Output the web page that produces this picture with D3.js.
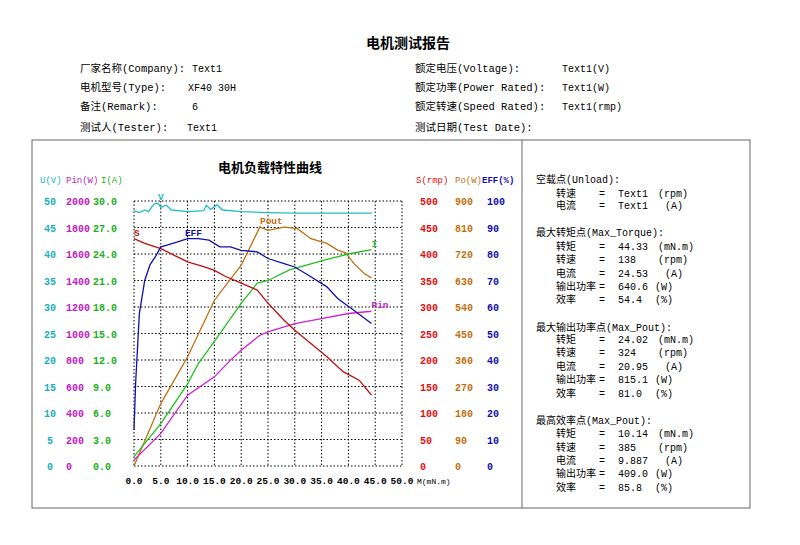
<!DOCTYPE html>
<html><head><meta charset="utf-8">
<script src="https://cdn.jsdelivr.net/npm/d3@7"></script>
<style>body{margin:0;background:#fff}svg text{font-family:"Liberation Mono","Noto Sans CJK SC",monospace}</style>
</head><body><svg id="c" width="800" height="545"></svg>
<script>
const torqueTicks=[0,5,10,15,20,25,30,35,40,45,50];
const uTicks=[0,5,10,15,20,25,30,35,40,45,50];
const pinTicks=[0,200,400,600,800,1000,1200,1400,1600,1800,2000];
const iTicks=[0,3,6,9,12,15,18,21,24,27,30];
const sTicks=[0,50,100,150,200,250,300,350,400,450,500];
const poTicks=[0,90,180,270,360,450,540,630,720,810,900];
const effTicks=[0,10,20,30,40,50,60,70,80,90,100];
const U=[[0,48.2],[1,47.8],[2,48.3],[2.7,48],[3.7,49.4],[4.5,49.6],[5,48.8],[6,49.2],[7,48.3],[10,48],[13,48.2],[13.5,49.2],[14.3,48.4],[15.5,49.3],[16.5,48.3],[20,48],[25,47.8],[30,47.7],[44.4,47.7]];
const Pout=[[0,0],[5,212],[10,371],[15,563],[20,682],[23.5,812],[25,800],[28,811],[30.5,806],[33,772],[36,756],[38,733],[39.5,724],[41,688],[43,653],[44.3,639]];
const I=[[0,1.06],[5,4.8],[10,9.3],[12,11.6],[15,14.1],[20,18.4],[23,20.7],[25,21.0],[29,22.2],[32,22.7],[36,23.4],[40,24.0],[44.3,24.5]];
const Pin=[[0,45],[5,246],[10,535],[15,673],[18,799],[20,874],[23.5,987],[25,1013],[30,1075],[35,1113],[40,1151],[44.3,1168]];
const S=[[0,429],[2,420],[5,410],[8,395],[10,385],[13,376],[15,369],[17,358],[20,345],[23,332],[25,307],[28,275],[30,256],[33,231],[36,206],[39,178],[42,162],[44.3,134]];
const EFF=[[0,13.6],[0.3,31],[1,57.5],[2,70],[3,76],[4,79],[5,82.7],[6,83.3],[8,84.5],[10,85.8],[12,85.8],[14,85.2],[16,82.7],[18,82.7],[20,81.4],[23,80.8],[25,78.3],[28,76.4],[30,75.1],[33,71.4],[36,67.6],[38,63.2],[41,58.8],[44.3,53.8]];
const svg=d3.select("#c");
const x=d3.scaleLinear().domain([0,50]).range([134,402]);
const yf=m=>d3.scaleLinear().domain([0,m]).range([466,201]);
const yU=yf(50),yPin=yf(2000),yI=yf(30),yS=yf(500),yPo=yf(900),yE=yf(100);
function t(xx,yy,s,o={}){return svg.append("text").attr("x",xx).attr("y",yy).text(s).attr("font-size",o.fs||11).attr("fill",o.c||"#000").attr("font-weight",o.w||"normal").attr("text-anchor",o.a||"start");}
t(408,48,"电机测试报告",{fs:14,w:"bold",a:"middle"});
const hdrL=[["厂家名称(Company):",192,"Text1",72],["电机型号(Type):",188,"XF40 30H",91],["备注(Remark):",192,"6",110],["测试人(Tester):",187,"Text1",131]];
hdrL.forEach(d=>{t(80,d[3],d[0],{fs:10.5});t(d[1],d[3],d[2],{fs:10});});
const hdrR=[["额定电压(Voltage):","Text1(V)",72],["额定功率(Power Rated):","Text1(W)",91],["额定转速(Speed Rated):","Text1(rmp)",110],["测试日期(Test Date):","",131]];
hdrR.forEach(d=>{t(415,d[2],d[0],{fs:10.5});t(562,d[2],d[1],{fs:10});});
svg.append("rect").attr("x",32).attr("y",140).attr("width",718).attr("height",368).attr("fill","none").attr("stroke","#666");
svg.append("line").attr("x1",522).attr("x2",522).attr("y1",140).attr("y2",508).attr("stroke","#666");
t(270,172,"电机负载特性曲线",{fs:13,w:"bold",a:"middle"});
const g=svg.append("g");
torqueTicks.forEach(v=>g.append("line").attr("x1",x(v)).attr("x2",x(v)).attr("y1",201).attr("y2",466).attr("stroke","#000").attr("stroke-dasharray","1.5,2"));
uTicks.forEach(v=>g.append("line").attr("x1",134).attr("x2",402).attr("y1",yU(v)).attr("y2",yU(v)).attr("stroke","#000").attr("stroke-dasharray","1.5,2"));
const cols=[[uTicks,yU,50,"#1ab0c0","middle"],[pinTicks,yPin,66,"#c020c0","start"],[iTicks,yI,93,"#20b020","start"],[sTicks,yS,420,"#e01010","start"],[poTicks,yPo,455,"#c07010","start"],[effTicks,yE,487,"#1010b0","start"]];
cols.forEach(([tk,sc,xx,c,a])=>tk.forEach(v=>t(xx,sc(v)+4,c=="#20b020"?v.toFixed(1):String(v),{c,w:"bold",a,fs:10})));
t(40,183,"U(V)",{c:"#1ab0c0",fs:9});t(66,183,"Pin(W)",{c:"#c020c0",fs:9});t(101,183,"I(A)",{c:"#20b020",fs:9});
t(416,183,"S(rmp)",{c:"#e01010",fs:9});t(455,183,"Po(W)",{c:"#c07010",fs:9});t(482,183,"EFF(%)",{c:"#1010b0",fs:9,w:"bold"});
torqueTicks.forEach(v=>t(x(v),484,v.toFixed(1),{a:"middle",w:"bold",fs:9.5}));
t(417,484,"M(mN.m)",{fs:8});
const series=[[U,yU,"#20c0c0","V",[4.5,49.6]],[Pout,yPo,"#c07010","Pout",[23.5,812]],[I,yI,"#20c020","I",[44.3,24.5]],[Pin,yPin,"#d020d0","Pin",[44.3,1168]],[S,yS,"#c01010","S",[0,429]],[EFF,yE,"#1010b0","EFF",[9.5,85.8]]];
series.forEach(([d,sc,c,lab,p])=>{
 svg.append("path").attr("d",d3.line().x(q=>x(q[0])).y(q=>sc(q[1]))(d)).attr("fill","none").attr("stroke",c).attr("stroke-width",1.3);
 t(x(p[0]),sc(p[1])-3,lab,{c,fs:9.5,w:"bold"});
});
const info=[["空载点(Unload):",179,0],["转速","=","Text1","(rpm)",193],["电流","=","Text1","(A)",205],
["最大转矩点(Max_Torque):",232,0],["转矩","=","44.33","(mN.m)",246],["转速","=","138","(rpm)",259],["电流","=","24.53","(A)",273],["输出功率","=","640.6","(W)",286],["效率","=","54.4","(%)",299],
["最大输出功率点(Max_Pout):",327,0],["转矩","=","24.02","(mN.m)",339],["转速","=","324","(rpm)",352],["电流","=","20.95","(A)",366],["输出功率","=","815.1","(W)",379],["效率","=","81.0","(%)",393],
["最高效率点(Max_Pout):",420,0],["转矩","=","10.14","(mN.m)",433],["转速","=","385","(rpm)",447],["电流","=","9.887","(A)",460],["输出功率","=","409.0","(W)",473],["效率","=","85.8","(%)",487]];
info.forEach(r=>{
 if(r.length==3){t(536,r[1]+4,r[0],{fs:10});}
 else{const yy=r[4]+4;t(556,yy,r[0],{fs:10});t(599,yy,r[1],{fs:10});t(618,yy,r[2],{fs:10});t(r[3]=="(A)"?665:(r[3]=="(%)"||r[3]=="(W)")?655:658,yy,r[3],{fs:10});}
});
</script></body></html>
